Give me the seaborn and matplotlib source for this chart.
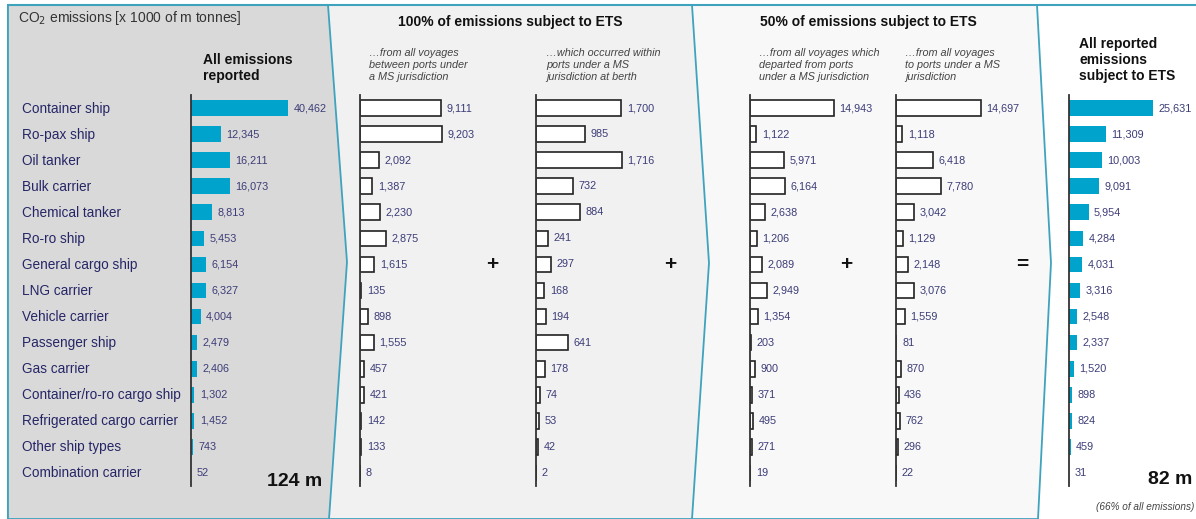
import matplotlib
matplotlib.use("Agg")
import matplotlib.pyplot as plt
from matplotlib.patches import Polygon
import seaborn as sns
import pandas as pd

ships = ['Container ship', 'Ro-pax ship', 'Oil tanker', 'Bulk carrier', 'Chemical tanker',
         'Ro-ro ship', 'General cargo ship', 'LNG carrier', 'Vehicle carrier', 'Passenger ship',
         'Gas carrier', 'Container/ro-ro cargo ship', 'Refrigerated cargo carrier',
         'Other ship types', 'Combination carrier']

all_reported = [40462, 12345, 16211, 16073, 8813, 5453, 6154, 6327, 4004, 2479, 2406, 1302, 1452, 743, 52]
full_between = [9111, 9203, 2092, 1387, 2230, 2875, 1615, 135, 898, 1555, 457, 421, 142, 133, 8]
full_berth = [1700, 985, 1716, 732, 884, 241, 297, 168, 194, 641, 178, 74, 53, 42, 2]
half_departed = [14943, 1122, 5971, 6164, 2638, 1206, 2089, 2949, 1354, 203, 900, 371, 495, 271, 19]
half_arrived = [14697, 1118, 6418, 7780, 3042, 1129, 2148, 3076, 1559, 81, 870, 436, 762, 296, 22]
ets_total = [25631, 11309, 10003, 9091, 5954, 4284, 4031, 3316, 2548, 2337, 1520, 898, 824, 459, 31]

sns.set_style('white')
plt.rcParams['font.family'] = ['Liberation Sans', 'DejaVu Sans']

W, H = 1196, 519
fig = plt.figure(figsize=(W / 100, H / 100), dpi=100)

# background axes in pixel coordinates (panels, headings)
bg = fig.add_axes([0, 0, 1, 1], zorder=-1)
bg.set_xlim(0, W)
bg.set_ylim(H, 0)
bg.axis('off')

teal = '#3fa3bd'
panels = [
    ([(8, 5), (1037, 5), (1051, 263), (1038, 519), (8, 519)], '#f8f8f8'),
    ([(8, 5), (692, 5), (709, 263), (692, 519), (8, 519)], '#f1f1f1'),
    ([(8, 5), (328, 5), (347, 262), (329, 519), (8, 519)], '#d9d9d9'),
]
for pts, fc in panels:
    bg.add_patch(Polygon(pts, closed=True, facecolor=fc, edgecolor=teal, linewidth=1.3))
bg.plot([8, W], [5, 5], color=teal, lw=1.5)

cyan = '#00a3cc'
navy = '#262667'
valc = '#3c3c78'

# (values, left px, px for the largest bar, filled?)
columns = [
    (all_reported, 191, 97, True),
    (full_between, 360, 82, False),
    (full_berth, 536, 86, False),
    (half_departed, 750, 84, False),
    (half_arrived, 896, 85, False),
    (ets_total, 1069, 84, True),
]

top_px, bot_px = 95, 486
for vals, x0, px, filled in columns:
    width_px = 110
    ax = fig.add_axes([x0 / W, (H - bot_px) / H, width_px / W, (bot_px - top_px) / H])
    df = pd.DataFrame({'ship': ships, 'co2': vals})
    if filled:
        sns.barplot(data=df, x='co2', y='ship', ax=ax, color=cyan, width=0.6,
                    linewidth=0, saturation=1)
    else:
        sns.barplot(data=df, x='co2', y='ship', ax=ax, color='white', width=0.6,
                    edgecolor='#222222', linewidth=1.2, saturation=1)
    ax.set_xlim(0, max(vals) * width_px / px)
    ax.bar_label(ax.containers[0], labels=[f'{v:,}' for v in vals], padding=4,
                 fontsize=7.8, color=valc)
    ax.set_xticks([])
    ax.set_yticks([])
    ax.set_xlabel('')
    ax.set_ylabel('')
    ax.patch.set_visible(False)
    for s in ['top', 'right', 'bottom']:
        ax.spines[s].set_visible(False)
    ax.spines['left'].set_color('#333333')
    ax.spines['left'].set_linewidth(1.3)

# category labels
row_h = (bot_px - top_px) / len(ships)
for i, name in enumerate(ships):
    bg.text(22, top_px + row_h * (i + 0.5) + 0.5, name, fontsize=9.8, color=navy,
            ha='left', va='center')

bg.text(18, 18, 'CO$_2$ emissions [x 1000 of m tonnes]', fontsize=10, color='#333333',
        ha='left', va='center')

hd = dict(fontsize=10, fontweight='bold', color='#111111')
bg.text(203, 68, 'All emissions\nreported', ha='left', va='center', linespacing=1.15, **hd)
bg.text(510, 22, '100% of emissions subject to ETS', ha='center', va='center', **hd)
bg.text(868, 22, '50% of emissions subject to ETS', ha='center', va='center', **hd)
bg.text(1079, 60, 'All reported\nemissions\nsubject to ETS', ha='left', va='center',
        linespacing=1.15, **hd)

sub = dict(fontsize=7.8, style='italic', color='#444444', ha='left', va='center',
           linespacing=1.22)
bg.text(369, 65, '…from all voyages\nbetween ports under\na MS jurisdiction', **sub)
bg.text(546, 65, '…which occurred within\nports under a MS\njurisdiction at berth', **sub)
bg.text(759, 65, '…from all voyages which\ndeparted from ports\nunder a MS jurisdiction', **sub)
bg.text(905, 65, '…from all voyages\nto ports under a MS\njurisdiction', **sub)

for x, sym in [(492, '+'), (670, '+'), (846, '+'), (1022, '=')]:
    bg.text(x, 265, sym, fontsize=15, fontweight='bold', color='#111111',
            ha='center', va='center')

bg.text(295, 481, '124 m', fontsize=14, fontweight='bold', color='#111111',
        ha='center', va='center')
bg.text(1170, 480, '82 m', fontsize=14, fontweight='bold', color='#111111',
        ha='center', va='center')
bg.text(1194, 507, '(66% of all emissions)', fontsize=7.2, style='italic',
        color='#444444', ha='right', va='center')

fig.savefig('out.png', dpi=100)
